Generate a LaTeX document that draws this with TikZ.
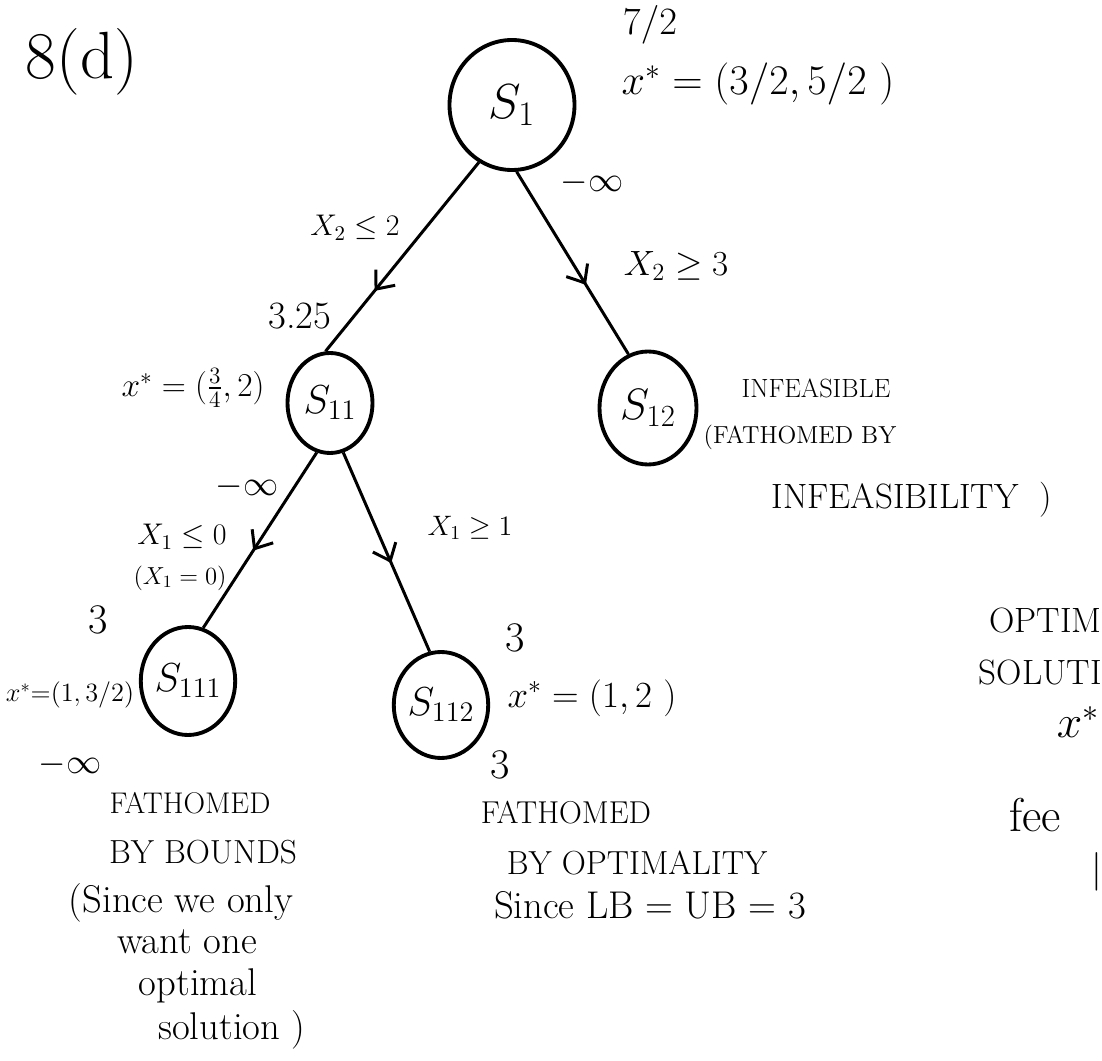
\RequirePackage{fix-cm}
\documentclass[tikz,border=0pt]{standalone}
\usepackage{amssymb}
\usetikzlibrary{shapes.geometric,decorations.markings,arrows.meta}

\newcommand{\fs}[1]{\fontsize{#1}{#1}\selectfont}

\begin{document}
\begin{tikzpicture}[x=0.2mm,y=-0.2mm]
	% Stili per i nodi, i rami e le note dell'albero
	\tikzset{nodo/.style={ellipse, draw, line width=2.2pt, inner sep=0pt},
		ramo/.style={line width=1.7pt, postaction={decorate},
			decoration={markings, mark=at position #1 with {\arrow{Straight Barb[length=3mm,width=5mm,line width=1.7pt]}}}},
		ramo/.default=0.6,
		nota/.style={inner sep=0pt}}
	\useasboundingbox (0,0) rectangle (1102,1061);
	
	% Nodi dell'albero
	\node[nodo, minimum width=25mm, minimum height=26mm, font=\fs{28}] (S1) at (512,105) {$S_1$};
	\node[nodo, minimum width=17mm, minimum height=20mm, font=\fs{23}] (S11) at (330,403) {$S_{11}$};
	\node[nodo, minimum width=19.4mm, minimum height=22.6mm, font=\fs{25}] (S12) at (648,408) {$S_{12}$};
	\node[nodo, minimum width=18mm, minimum height=21.6mm, font=\fs{23}] (S111) at (188,681) {$S_{111}$};
	\node[nodo, minimum width=17.4mm, minimum height=21.2mm, font=\fs{23}] (S112) at (441,705) {$S_{112}$};
	
	% Rami con la freccia a metà
	\draw[ramo=0.68] (S1.240) -- (S11.95);
	\draw[ramo=0.62] (S1.274) -- (S12.110);
	\draw[ramo=0.56] (S11.255) -- (S111.74);
	\draw[ramo=0.555] (S11.285) -- (S112.102);
	
	% Titolo
	\node[nota, font=\fs{38}] (titolo) at (82,62) {8(d)};
	
	% Etichette di S1
	\node[nota, font=\fs{22}] (z1) at (650,25) {$7/2$};
	\node[nota, font=\fs{24}] (x1) at (758,84) {$x^* = (3/2, 5/2\ )$};
	\node[nota, font=\fs{20}] (inf1) at (592,183) {$-\infty$};
	\node[nota, font=\fs{17}] (v1) at (355,228) {$X_2 \le 2$};
	\node[nota, font=\fs{20}] (v2) at (676,266) {$X_2 \ge 3$};
	
	% Etichette di S11 e S12
	\node[nota, font=\fs{22}] (z11) at (300,316) {3.25};
	\node[nota, font=\fs{19}] (x11) at (193,388) {$x^* = (\frac{3}{4}, 2)$};
	\node[nota, font=\fs{20}] (inf11) at (247,487) {$-\infty$};
	\node[nota, font=\fs{17}] (v3) at (182,537) {$X_1 \le 0$};
	\node[nota, font=\fs{14}] (v4) at (180,578) {$(X_1 = 0)$};
	\node[nota, font=\fs{16}] (v5) at (470,528) {$X_1 \ge 1$};
	\node[nota, font=\fs{15}] (n12a) at (816,388) {INFEASIBLE};
	\node[nota, font=\fs{14}] (n12b) at (800,437) {(FATHOMED BY};
	\node[nota, font=\fs{20}] (n12c) at (912,500) {INFEASIBILITY\ \ )};
	
	% Etichette di S111
	\node[nota, font=\fs{24}] (z111) at (98,620) {3};
	\node[nota, font=\fs{15}] (x111) at (70,695) {$x^* {=} (1, 3/2)$};
	\node[nota, font=\fs{20}] (inf111) at (70,765) {$-\infty$};
	\node[nota, font=\fs{17}] (n111a) at (190,803) {FATHOMED};
	\node[nota, font=\fs{19}] (n111b) at (203,852) {BY BOUNDS};
	\node[nota, font=\fs{22}] (n111c) at (181,903) {(Since we only};
	\node[nota, font=\fs{22}] (n111d) at (187,942) {want one};
	\node[nota, font=\fs{22}] (n111e) at (198,986) {optimal};
	\node[nota, font=\fs{22}] (n111f) at (232,1030) {solution )};
	
	% Etichette di S112
	\node[nota, font=\fs{24}] (z112) at (515,638) {3};
	\node[nota, font=\fs{21}] (x112) at (592,698) {$x^* = (1, 2\ )$};
	\node[nota, font=\fs{24}] (z112b) at (500,765) {3};
	\node[nota, font=\fs{18}] (n112a) at (566,813) {FATHOMED};
	\node[nota, font=\fs{19}] (n112b) at (637,863) {BY OPTIMALITY};
	\node[nota, font=\fs{22}] (n112c) at (650,905) {Since LB = UB = 3};
	
	% Testo tagliato sul bordo destro
	\node[nota, anchor=east, font=\fs{20}] (o1) at (1102,620) {OPTIM};
	\node[nota, anchor=east, font=\fs{20}] (o2) at (1102,672) {SOLUTI};
	\node[nota, font=\fs{26}] (o3) at (1078,722) {$x^*$};
	\node[nota, font=\fs{27}] (o4) at (1035,815) {fee};
	\node[nota, font=\fs{22}] (o5) at (1097,872) {|};
\end{tikzpicture}
\end{document}
